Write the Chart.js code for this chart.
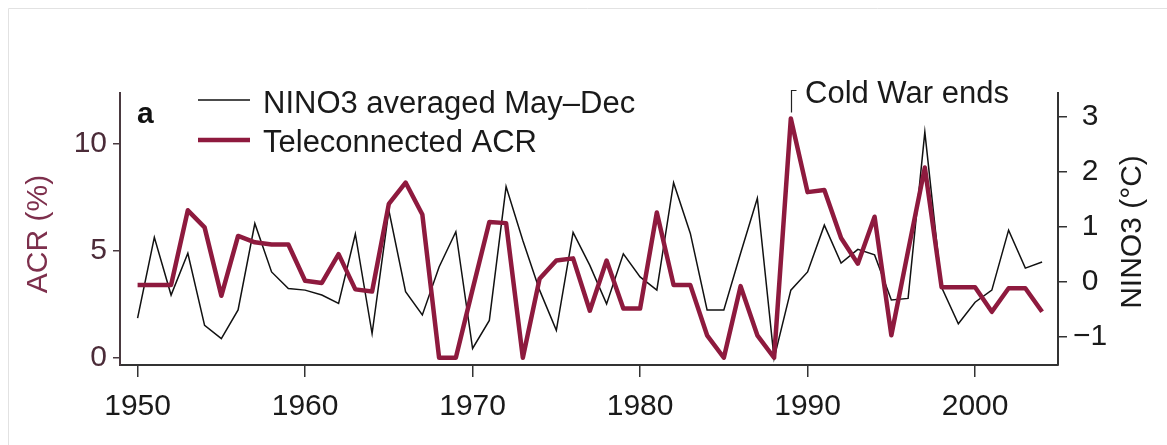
<!DOCTYPE html>
<html>
<head>
<meta charset="utf-8">
<title>Teleconnected ACR and NINO3</title>
<script src="https://cdn.jsdelivr.net/npm/chart.js@4/dist/chart.umd.min.js"></script>
<style>
  html, body { margin: 0; padding: 0; background: #fff; }
  #wrap { position: relative; width: 1167px; height: 445px; }
</style>
</head>
<body>
<div id="wrap"><canvas id="chart"></canvas></div>
<script>
// ── Data ───────────────────────────────────────────────────
const YEARS = [
  1950, 1951, 1952, 1953, 1954, 1955, 1956, 1957, 1958, 1959,
  1960, 1961, 1962, 1963, 1964, 1965, 1966, 1967, 1968, 1969,
  1970, 1971, 1972, 1973, 1974, 1975, 1976, 1977, 1978, 1979,
  1980, 1981, 1982, 1983, 1984, 1985, 1986, 1987, 1988, 1989,
  1990, 1991, 1992, 1993, 1994, 1995, 1996, 1997, 1998, 1999,
  2000, 2001, 2002, 2003, 2004,
];

// Teleconnected ACR (%), left axis
const ACR = [
  3.4, 3.4, 3.4, 6.9, 6.1, 2.9, 5.7, 5.4, 5.3, 5.3,
  3.6, 3.5, 4.85, 3.2, 3.1, 7.2, 8.2, 6.7, 0, 0,
  3.2, 6.35, 6.3, 0, 3.7, 4.55, 4.65, 2.2, 4.55, 2.3,
  2.3, 6.8, 3.4, 3.4, 1.05, 0, 3.35, 1.05, 0, 11.2,
  7.75, 7.85, 5.6, 4.4, 6.6, 1.05, 5.0, 8.9, 3.3, 3.3,
  3.3, 2.15, 3.25, 3.25, 2.15,
];

// NINO3 averaged May–Dec (°C), right axis
const NINO3 = [
  -0.66, 0.81, -0.24, 0.52, -0.79, -1.03, -0.51, 1.06, 0.18, -0.12,
  -0.15, -0.24, -0.39, 0.87, -0.94, 1.3, -0.18, -0.6, 0.27, 0.91,
  -1.21, -0.7, 1.73, 0.75, -0.15, -0.88, 0.9, 0.3, -0.4, 0.51,
  0.09, -0.15, 1.8, 0.88, -0.51, -0.51, 0.52, 1.52, -1.39, -0.15,
  0.18, 1.03, 0.34, 0.59, 0.49, -0.33, -0.3, 2.72, -0.1, -0.76,
  -0.37, -0.15, 0.94, 0.25, 0.36,
];

const X_TICKS = [1950, 1960, 1970, 1980, 1990, 2000];
const ACR_TICKS = [0, 5, 10];
const NINO_TICKS = [-1, 0, 1, 2, 3];

const LABEL_NINO = 'NINO3 averaged May\u2013Dec';
const LABEL_ACR = 'Teleconnected ACR';
const COLD_WAR_YEAR = 1989;
const COLD_WAR_TEXT = 'Cold War ends';

// ── Styles ─────────────────────────────────────────────────
const RED = '#8e1a3e';
const RED_TEXT = '#7d2f4c';
const RED_TICK = '#4b2b38';
const AXIS = '#333';
const FONT = '"Liberation Sans", Arial, Helvetica, sans-serif';

Chart.defaults.font.family = FONT;
Chart.defaults.font.size = 30;
Chart.defaults.color = '#222';

const toPoints = vals => YEARS.map((yr, i) => ({ x: yr, y: vals[i] }));
const fixTicks = list => scale => { scale.ticks = list.map(v => ({ value: v })); };
const minus = v => String(v).replace('-', '\u2212');

// legend, panel letter, annotation and axis titles drawn by hand
const overlay = {
  id: 'overlay',
  beforeDraw(chart) {
    const { ctx, width } = chart;
    ctx.save();
    ctx.strokeStyle = '#e2e2e2';
    ctx.lineWidth = 1;
    ctx.beginPath();
    ctx.moveTo(8.5, chart.height);
    ctx.lineTo(8.5, 8.5);
    ctx.lineTo(width, 8.5);
    ctx.stroke();
    ctx.restore();
  },
  afterDraw(chart) {
    const { ctx, scales } = chart;
    ctx.save();

    // panel letter
    ctx.fillStyle = '#111';
    ctx.font = `bold 30px ${FONT}`;
    ctx.textBaseline = 'alphabetic';
    ctx.textAlign = 'left';
    ctx.fillText('a', 137, 123);

    // legend
    ctx.lineCap = 'butt';
    ctx.strokeStyle = '#111';
    ctx.lineWidth = 1.5;
    ctx.beginPath(); ctx.moveTo(198, 100); ctx.lineTo(250, 100); ctx.stroke();
    ctx.strokeStyle = RED;
    ctx.lineWidth = 4.5;
    ctx.beginPath(); ctx.moveTo(198, 140); ctx.lineTo(250, 140); ctx.stroke();
    ctx.fillStyle = '#1a1a1a';
    ctx.font = `31px ${FONT}`;
    ctx.fillText(LABEL_NINO, 263, 113);
    ctx.fillText(LABEL_ACR, 263, 152);

    // Cold War bracket
    const bx = Math.round(scales.x.getPixelForValue(COLD_WAR_YEAR)) + 0.5;
    ctx.strokeStyle = '#222';
    ctx.lineWidth = 1.2;
    ctx.beginPath();
    ctx.moveTo(bx, scales.y.getPixelForValue(11.2) - 6);
    ctx.lineTo(bx, 90.5);
    ctx.lineTo(bx + 5, 90.5);
    ctx.stroke();
    ctx.fillText(COLD_WAR_TEXT, 805, 103);

    // axis titles, both reading bottom to top
    ctx.font = `30px ${FONT}`;
    ctx.textAlign = 'center';
    ctx.textBaseline = 'middle';
    ctx.fillStyle = RED_TEXT;
    ctx.translate(39, 234);
    ctx.rotate(-Math.PI / 2);
    ctx.fillText('ACR (%)', 0, 0);
    ctx.setTransform(1, 0, 0, 1, 0, 0);
    ctx.fillStyle = '#1a1a1a';
    ctx.translate(1133, 232);
    ctx.rotate(-Math.PI / 2);
    ctx.fillText('NINO3 (\u00b0C)', 0, 0);

    ctx.restore();
  },
};

const ctx = document.getElementById('chart');
new Chart(ctx, {
  type: 'line',
  data: {
    datasets: [
      {
        label: LABEL_ACR,
        data: toPoints(ACR),
        yAxisID: 'y',
        borderColor: RED,
        borderWidth: 4.5,
        borderJoinStyle: 'round',
        pointRadius: 0,
        tension: 0,
        order: 1,
      },
      {
        label: LABEL_NINO,
        data: toPoints(NINO3),
        yAxisID: 'y2',
        borderColor: '#111',
        borderWidth: 1.5,
        pointRadius: 0,
        tension: 0,
        order: 2,
      },
    ],
  },
  options: {
    responsive: true,
    maintainAspectRatio: false,
    animation: false,
    layout: { padding: { top: 93, left: 0, right: 0, bottom: 0 } },
    plugins: {
      legend: { display: false },
      tooltip: { enabled: false },
    },
    scales: {
      x: {
        type: 'linear',
        min: 1948.95,
        max: 2004.95,
        afterBuildTicks: fixTicks(X_TICKS),
        afterFit: s => { s.height = 80; },
        border: { display: true, color: AXIS, width: 2 },
        grid: { drawOnChartArea: false, drawTicks: true, tickLength: 12, color: AXIS, lineWidth: 1.5 },
        ticks: { color: '#1a1a1a', padding: 12, maxRotation: 0, callback: v => String(v) },
      },
      y: {
        position: 'left',
        min: -0.34,
        max: 12.39,
        afterBuildTicks: fixTicks(ACR_TICKS),
        afterFit: s => { s.width = 120; },
        border: { display: true, color: '#4a3a40', width: 2 },
        grid: { drawOnChartArea: false, drawTicks: true, tickLength: 7, color: '#4a3a40', lineWidth: 1.5 },
        ticks: { color: RED_TICK, padding: 6, callback: v => String(v) },
      },
      y2: {
        position: 'right',
        min: -1.51,
        max: 3.43,
        afterBuildTicks: fixTicks(NINO_TICKS),
        afterFit: s => { s.width = 109; },
        border: { display: true, color: AXIS, width: 2 },
        grid: { drawOnChartArea: false, drawTicks: true, tickLength: 9, color: AXIS, lineWidth: 1.5 },
        ticks: { color: '#1a1a1a', padding: 6, crossAlign: 'center', callback: v => minus(v) },
      },
    },
  },
  plugins: [overlay],
});
</script>
</body>
</html>
